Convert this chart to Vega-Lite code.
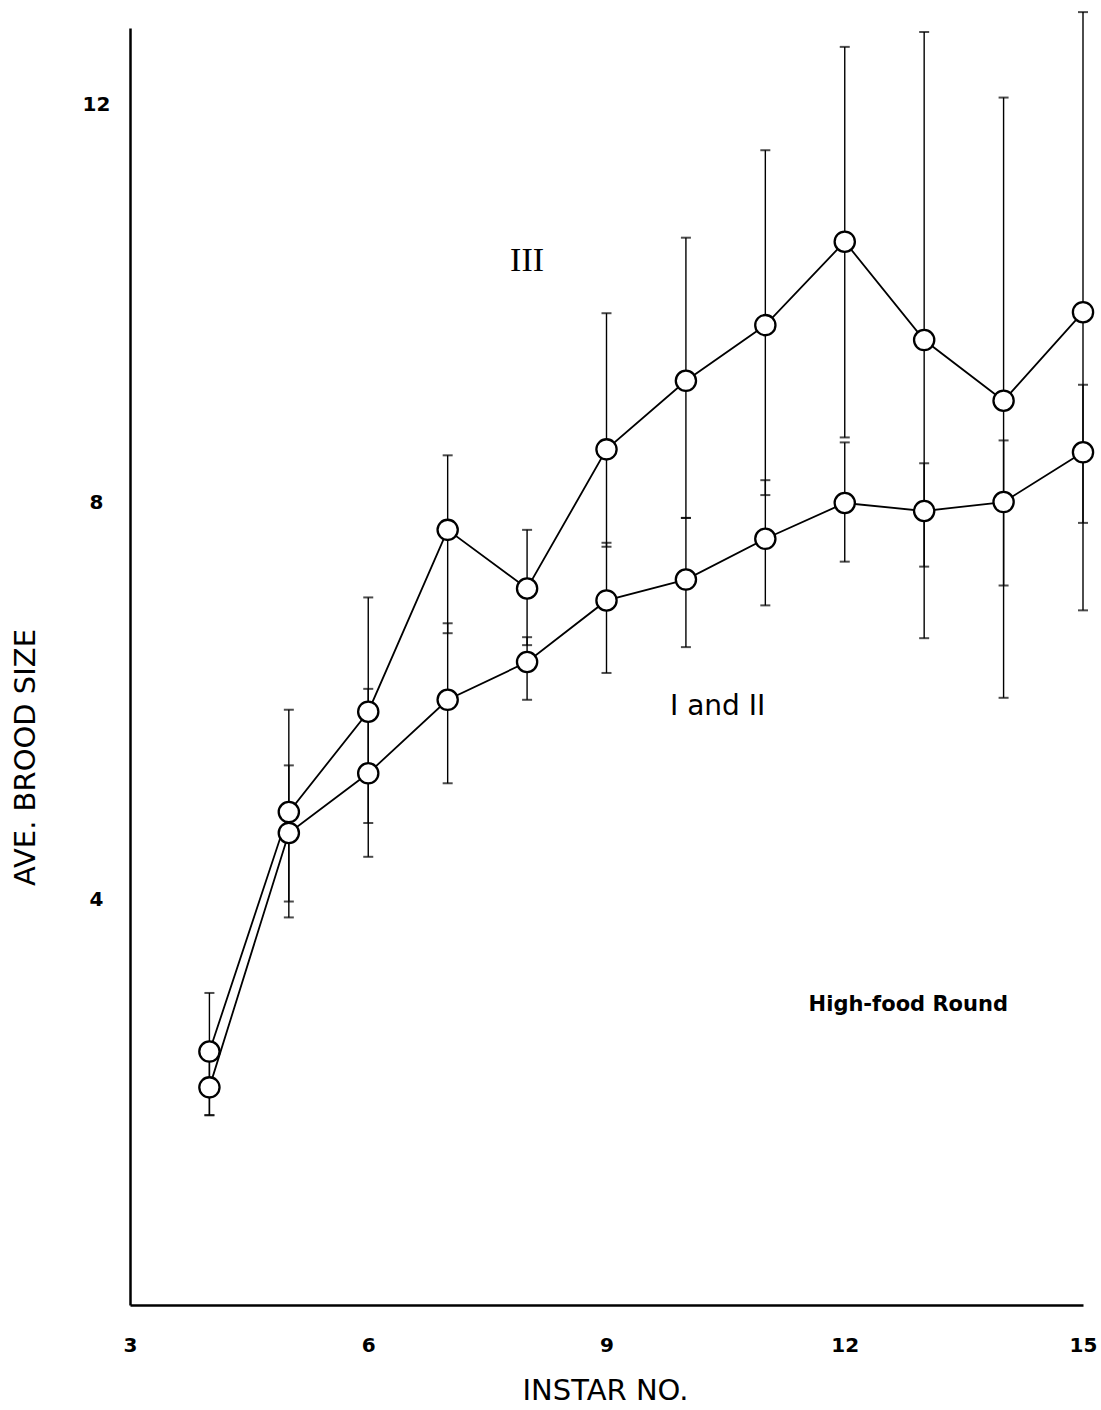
{
  "$schema": "https://vega.github.io/schema/vega-lite/v6.json",
  "width": 953,
  "height": 1277,
  "autosize": "none",
  "padding": {"left": 130, "top": 28, "right": 18, "bottom": 105},
  "background": "white",
  "config": {
    "view": {"stroke": null},
    "font": "DejaVu Sans",
    "axis": {
      "domainColor": "black",
      "domainWidth": 2.5,
      "ticks": false,
      "grid": false,
      "labelColor": "black",
      "labelFont": "DejaVu Sans",
      "labelFontWeight": "bold",
      "labelFontSize": 20,
      "titleColor": "black",
      "titleFont": "DejaVu Sans",
      "titleFontWeight": "normal",
      "titleFontSize": 29
    }
  },
  "datasets": {
    "pts": [
      {"instar": 4, "series": "III", "mean": 2.47, "low": 1.83, "high": 3.06},
      {"instar": 4, "series": "I and II", "mean": 2.11, "low": 1.83, "high": 2.40},
      {"instar": 5, "series": "III", "mean": 4.88, "low": 3.82, "high": 5.91},
      {"instar": 5, "series": "I and II", "mean": 4.67, "low": 3.98, "high": 5.35},
      {"instar": 6, "series": "III", "mean": 5.89, "low": 4.77, "high": 7.04},
      {"instar": 6, "series": "I and II", "mean": 5.27, "low": 4.43, "high": 6.12},
      {"instar": 7, "series": "III", "mean": 7.72, "low": 6.68, "high": 8.47},
      {"instar": 7, "series": "I and II", "mean": 6.01, "low": 5.17, "high": 6.78},
      {"instar": 8, "series": "III", "mean": 7.13, "low": 6.56, "high": 7.72},
      {"instar": 8, "series": "I and II", "mean": 6.39, "low": 6.01, "high": 6.64},
      {"instar": 9, "series": "III", "mean": 8.53, "low": 7.55, "high": 9.90},
      {"instar": 9, "series": "I and II", "mean": 7.01, "low": 6.28, "high": 7.59},
      {"instar": 10, "series": "III", "mean": 9.22, "low": 7.84, "high": 10.66},
      {"instar": 10, "series": "I and II", "mean": 7.22, "low": 6.54, "high": 7.84},
      {"instar": 11, "series": "III", "mean": 9.78, "low": 8.07, "high": 11.54},
      {"instar": 11, "series": "I and II", "mean": 7.63, "low": 6.96, "high": 8.22},
      {"instar": 12, "series": "III", "mean": 10.62, "low": 8.65, "high": 12.58},
      {"instar": 12, "series": "I and II", "mean": 7.99, "low": 7.40, "high": 8.60},
      {"instar": 13, "series": "III", "mean": 9.63, "low": 6.63, "high": 12.73},
      {"instar": 13, "series": "I and II", "mean": 7.91, "low": 7.35, "high": 8.39},
      {"instar": 14, "series": "III", "mean": 9.02, "low": 6.03, "high": 12.07},
      {"instar": 14, "series": "I and II", "mean": 8.00, "low": 7.16, "high": 8.62},
      {"instar": 15, "series": "III", "mean": 9.91, "low": 6.91, "high": 12.93},
      {"instar": 15, "series": "I and II", "mean": 8.50, "low": 7.79, "high": 9.18}
    ],
    "notes": [
      {"label": "III", "x": 8.0, "y": 10.43},
      {"label": "I and II", "x": 10.4, "y": 5.94},
      {"label": "High-food Round", "x": 12.8, "y": 2.94}
    ]
  },
  "layer": [
    {
      "data": {"name": "pts"},
      "mark": {"type": "rule", "color": "black", "strokeWidth": 1.4},
      "encoding": {
        "x": {"field": "instar", "type": "quantitative", "title": "INSTAR NO.", "scale": {"domain": [3, 15], "nice": false, "zero": false},
          "axis": {"values": [3, 6, 9, 12, 15], "title": "INSTAR NO.", "labelPadding": 30, "labelFlush": false, "titleX": 475, "titleY": 85, "titleBaseline": "middle", "titleAlign": "center"}},
        "y": {"field": "low", "type": "quantitative", "title": "AVE. BROOD SIZE", "scale": {"domain": [-0.08, 12.77], "nice": false, "zero": false},
          "axis": {"values": [4, 8, 12], "title": "AVE. BROOD SIZE", "labelPadding": 34, "labelAlign": "center", "labelBaseline": "middle", "titleX": -105, "titleY": 729, "titleAngle": 270, "titleAlign": "center", "titleBaseline": "middle"}},
        "y2": {"field": "high"}
      }
    },
    {
      "data": {"name": "pts"},
      "mark": {"type": "tick", "orient": "horizontal", "color": "black", "size": 10, "thickness": 2},
      "encoding": {
        "x": {"field": "instar", "type": "quantitative", "title": "INSTAR NO.", "scale": {"domain": [3, 15], "nice": false, "zero": false},
          "axis": {"values": [3, 6, 9, 12, 15], "title": "INSTAR NO.", "labelPadding": 30, "labelFlush": false, "titleX": 475, "titleY": 85, "titleBaseline": "middle", "titleAlign": "center"}},
        "y": {"field": "high", "type": "quantitative", "title": "AVE. BROOD SIZE", "scale": {"domain": [-0.08, 12.77], "nice": false, "zero": false},
          "axis": {"values": [4, 8, 12], "title": "AVE. BROOD SIZE", "labelPadding": 34, "labelAlign": "center", "labelBaseline": "middle", "titleX": -105, "titleY": 729, "titleAngle": 270, "titleAlign": "center", "titleBaseline": "middle"}}
      }
    },
    {
      "data": {"name": "pts"},
      "mark": {"type": "tick", "orient": "horizontal", "color": "black", "size": 10, "thickness": 2},
      "encoding": {
        "x": {"field": "instar", "type": "quantitative", "title": "INSTAR NO.", "scale": {"domain": [3, 15], "nice": false, "zero": false},
          "axis": {"values": [3, 6, 9, 12, 15], "title": "INSTAR NO.", "labelPadding": 30, "labelFlush": false, "titleX": 475, "titleY": 85, "titleBaseline": "middle", "titleAlign": "center"}},
        "y": {"field": "low", "type": "quantitative", "title": "AVE. BROOD SIZE", "scale": {"domain": [-0.08, 12.77], "nice": false, "zero": false},
          "axis": {"values": [4, 8, 12], "title": "AVE. BROOD SIZE", "labelPadding": 34, "labelAlign": "center", "labelBaseline": "middle", "titleX": -105, "titleY": 729, "titleAngle": 270, "titleAlign": "center", "titleBaseline": "middle"}}
      }
    },
    {
      "data": {"name": "pts"},
      "mark": {"type": "line", "color": "black", "strokeWidth": 1.8},
      "encoding": {
        "x": {"field": "instar", "type": "quantitative", "title": "INSTAR NO.", "scale": {"domain": [3, 15], "nice": false, "zero": false},
          "axis": {"values": [3, 6, 9, 12, 15], "title": "INSTAR NO.", "labelPadding": 30, "labelFlush": false, "titleX": 475, "titleY": 85, "titleBaseline": "middle", "titleAlign": "center"}},
        "y": {"field": "mean", "type": "quantitative", "title": "AVE. BROOD SIZE", "scale": {"domain": [-0.08, 12.77], "nice": false, "zero": false},
          "axis": {"values": [4, 8, 12], "title": "AVE. BROOD SIZE", "labelPadding": 34, "labelAlign": "center", "labelBaseline": "middle", "titleX": -105, "titleY": 729, "titleAngle": 270, "titleAlign": "center", "titleBaseline": "middle"}},
        "detail": {"field": "series", "type": "nominal"}
      }
    },
    {
      "data": {"name": "pts"},
      "mark": {"type": "point", "shape": "circle", "filled": true, "fill": "white", "stroke": "black", "strokeWidth": 2.3, "size": 410, "opacity": 1},
      "encoding": {
        "x": {"field": "instar", "type": "quantitative", "title": "INSTAR NO.", "scale": {"domain": [3, 15], "nice": false, "zero": false},
          "axis": {"values": [3, 6, 9, 12, 15], "title": "INSTAR NO.", "labelPadding": 30, "labelFlush": false, "titleX": 475, "titleY": 85, "titleBaseline": "middle", "titleAlign": "center"}},
        "y": {"field": "mean", "type": "quantitative", "title": "AVE. BROOD SIZE", "scale": {"domain": [-0.08, 12.77], "nice": false, "zero": false},
          "axis": {"values": [4, 8, 12], "title": "AVE. BROOD SIZE", "labelPadding": 34, "labelAlign": "center", "labelBaseline": "middle", "titleX": -105, "titleY": 729, "titleAngle": 270, "titleAlign": "center", "titleBaseline": "middle"}}
      }
    },
    {
      "data": {"name": "notes"},
      "transform": [{"filter": "datum.label === 'III'"}],
      "mark": {"type": "text", "font": "Liberation Serif", "fontSize": 34, "color": "black", "align": "center", "baseline": "middle"},
      "encoding": {
        "x": {"field": "x", "type": "quantitative", "title": "INSTAR NO.", "scale": {"domain": [3, 15], "nice": false, "zero": false},
          "axis": {"values": [3, 6, 9, 12, 15], "title": "INSTAR NO.", "labelPadding": 30, "labelFlush": false, "titleX": 475, "titleY": 85, "titleBaseline": "middle", "titleAlign": "center"}},
        "y": {"field": "y", "type": "quantitative", "title": "AVE. BROOD SIZE", "scale": {"domain": [-0.08, 12.77], "nice": false, "zero": false},
          "axis": {"values": [4, 8, 12], "title": "AVE. BROOD SIZE", "labelPadding": 34, "labelAlign": "center", "labelBaseline": "middle", "titleX": -105, "titleY": 729, "titleAngle": 270, "titleAlign": "center", "titleBaseline": "middle"}},
        "text": {"field": "label"}
      }
    },
    {
      "data": {"name": "notes"},
      "transform": [{"filter": "datum.label === 'I and II'"}],
      "mark": {"type": "text", "font": "DejaVu Sans", "fontSize": 28, "color": "black", "align": "center", "baseline": "middle"},
      "encoding": {
        "x": {"field": "x", "type": "quantitative", "title": "INSTAR NO.", "scale": {"domain": [3, 15], "nice": false, "zero": false},
          "axis": {"values": [3, 6, 9, 12, 15], "title": "INSTAR NO.", "labelPadding": 30, "labelFlush": false, "titleX": 475, "titleY": 85, "titleBaseline": "middle", "titleAlign": "center"}},
        "y": {"field": "y", "type": "quantitative", "title": "AVE. BROOD SIZE", "scale": {"domain": [-0.08, 12.77], "nice": false, "zero": false},
          "axis": {"values": [4, 8, 12], "title": "AVE. BROOD SIZE", "labelPadding": 34, "labelAlign": "center", "labelBaseline": "middle", "titleX": -105, "titleY": 729, "titleAngle": 270, "titleAlign": "center", "titleBaseline": "middle"}},
        "text": {"field": "label"}
      }
    },
    {
      "data": {"name": "notes"},
      "transform": [{"filter": "datum.label === 'High-food Round'"}],
      "mark": {"type": "text", "font": "DejaVu Sans", "fontSize": 21, "fontWeight": "bold", "color": "black", "align": "center", "baseline": "middle"},
      "encoding": {
        "x": {"field": "x", "type": "quantitative", "title": "INSTAR NO.", "scale": {"domain": [3, 15], "nice": false, "zero": false},
          "axis": {"values": [3, 6, 9, 12, 15], "title": "INSTAR NO.", "labelPadding": 30, "labelFlush": false, "titleX": 475, "titleY": 85, "titleBaseline": "middle", "titleAlign": "center"}},
        "y": {"field": "y", "type": "quantitative", "title": "AVE. BROOD SIZE", "scale": {"domain": [-0.08, 12.77], "nice": false, "zero": false},
          "axis": {"values": [4, 8, 12], "title": "AVE. BROOD SIZE", "labelPadding": 34, "labelAlign": "center", "labelBaseline": "middle", "titleX": -105, "titleY": 729, "titleAngle": 270, "titleAlign": "center", "titleBaseline": "middle"}},
        "text": {"field": "label"}
      }
    }
  ]
}
